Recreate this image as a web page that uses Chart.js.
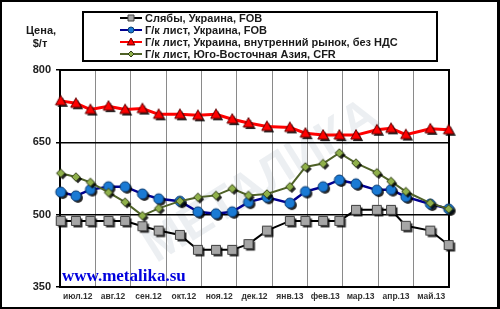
<!DOCTYPE html>
<html><head><meta charset="utf-8">
<script src="https://cdn.jsdelivr.net/npm/chart.js@4.4.0/dist/chart.umd.min.js"></script>
<style>html,body{margin:0;padding:0;background:#fff;}#wrap{width:500px;height:309px;position:relative;background:#fff;}</style>
</head><body><div id="wrap"><canvas id="c" width="500" height="309"></canvas></div>
<script>
// ---- data ----
const months = ['июл.12','авг.12','сен.12','окт.12','ноя.12','дек.12','янв.13','фев.13','мар.13','апр.13','май.13'];
// position of each observation, in months from the start of July 2012
const datePos = [0.02,0.45,0.86,1.37,1.84,2.33,2.79,3.39,3.90,4.41,4.87,5.33,5.85,6.50,6.94,7.44,7.90,8.37,8.96,9.36,9.78,10.47,10.99];
const slabsUA  = [487,487,487,487,487,476,467,458,427,427,427,439,467,487,487,487,487,510,510,510,477,467,437];
const hrcUA    = [547,539,552,558,558,543,533,528,506,502,506,526,536,524,548,558,572,564,551,552,537,522,512];
const hrcUAdom = [736,731,718,725,718,720,708,708,706,708,698,690,683,681,669,665,665,665,676,679,666,678,676];
const hrcSEA   = [586,578,567,546,526,498,513,528,536,540,554,540,543,558,599,606,628,607,587,569,548,524,512];
const seriesNames = ['Слябы, Украина, FOB','Г/к лист, Украина, FOB','Г/к лист, Украина, внутренний рынок, без НДС','Г/к лист, Юго-Восточная Азия, CFR'];
const yTicks = [350,500,650,800];
const yTitle = ['Цена,','$/т'];
const siteText = 'www.metalika.su';
const watermarkText = 'МЕТАЛИКА';

const FONT = '"Liberation Sans", Arial, sans-serif';

function shapePath(ctx, shape, cx, cy, h) {
  ctx.beginPath();
  if (shape === 'square') { ctx.rect(cx - h, cy - h, 2*h, 2*h); }
  else if (shape === 'circle') { ctx.arc(cx, cy, h, 0, Math.PI*2); }
  else if (shape === 'triangle') { ctx.moveTo(cx, cy - h*1.15); ctx.lineTo(cx + h*1.1, cy + h*0.85); ctx.lineTo(cx - h*1.1, cy + h*0.85); ctx.closePath(); }
  else if (shape === 'diamond') { ctx.moveTo(cx, cy - h); ctx.lineTo(cx + h, cy); ctx.lineTo(cx, cy + h); ctx.lineTo(cx - h, cy); ctx.closePath(); }
}
function makeMarker(shape, fill, stroke, size, shadow) {
  const h = size/2;
  const c = Math.ceil(h*1.2 + 3);
  const cv = document.createElement('canvas');
  cv.width = 2*c; cv.height = 2*c;
  const ctx = cv.getContext('2d');
  if (shadow) {
    shapePath(ctx, shape, c + 2, c + 2, h);
    ctx.fillStyle = 'rgba(0,0,0,0.85)'; ctx.fill();
  }
  shapePath(ctx, shape, c, c, h);
  ctx.fillStyle = fill; ctx.fill();
  ctx.lineWidth = 1; ctx.strokeStyle = stroke; ctx.stroke();
  return cv;
}

const styles = [
  {line:'#000000', width:2, shape:'square', fill:'#a6a6a6', stroke:'#404040', size:9, lsize:6},
  {line:'#000090', width:2.5, shape:'circle', fill:'#1a7ad4', stroke:'#0a3a70', size:10, lsize:6},
  {line:'#ff0000', width:3, shape:'triangle', fill:'#ff0000', stroke:'#600000', size:9.5, lsize:7},
  {line:'#4f6228', width:2, shape:'diamond', fill:'#8fb04a', stroke:'#2f3d15', size:8.5, lsize:6}
];
const seriesData = [slabsUA, hrcUA, hrcUAdom, hrcSEA];
const orders = [4,3,2,1];

styles.forEach(s => {
  s.img = makeMarker(s.shape, s.fill, s.stroke, s.size, true);
  s.limg = makeMarker(s.shape, s.fill, s.stroke, s.lsize, false);
});

const datasets = seriesData.map((arr, k) => ({
  label: seriesNames[k],
  data: datePos.map((x, i) => ({x: x, y: arr[i]})),
  xAxisID: 'x', yAxisID: 'y',
  borderColor: styles[k].line,
  borderWidth: styles[k].width,
  backgroundColor: styles[k].fill,
  pointStyle: styles[k].img,
  pointRadius: 5, pointHoverRadius: 5,
  tension: 0, clip: false, order: orders[k], fill: false
}));

const decor = {
  id: 'decor',
  beforeDraw(chart) {
    const ctx = chart.ctx, a = chart.chartArea;
    ctx.save();
    ctx.fillStyle = '#fff'; ctx.fillRect(0, 0, chart.width, chart.height);
    ctx.beginPath(); ctx.rect(a.left, a.top, a.right - a.left, a.bottom - a.top); ctx.clip();
    ctx.translate(262, 182);
    ctx.rotate(-32 * Math.PI / 180);
    ctx.font = 'bold 48px ' + FONT;
    ctx.fillStyle = 'rgba(205,212,222,0.38)';
    ctx.textAlign = 'center'; ctx.textBaseline = 'middle';
    ctx.fillText(watermarkText, 0, 0);
    ctx.restore();
  },
  beforeDatasetsDraw(chart) {
    const ctx = chart.ctx, a = chart.chartArea;
    ctx.save();
    ctx.strokeStyle = '#000'; ctx.lineWidth = 2;
    ctx.strokeRect(a.left, a.top, a.right - a.left, a.bottom - a.top);
    ctx.restore();
  },
  afterDraw(chart) {
    const ctx = chart.ctx;
    ctx.save();
    // outer frame
    ctx.fillStyle = '#000';
    ctx.fillRect(0, 0, 500, 2);
    ctx.fillRect(0, 0, 2, 309);
    ctx.fillRect(497, 0, 3, 309);
    ctx.fillRect(0, 307, 500, 2);
    // legend box
    ctx.lineWidth = 2; ctx.strokeStyle = '#000';
    ctx.strokeRect(83, 12, 354, 49);
    ctx.font = 'bold 11px ' + FONT;
    ctx.textBaseline = 'middle'; ctx.textAlign = 'left';
    seriesNames.forEach((n, k) => {
      const y = 18 + k * 12;
      ctx.beginPath(); ctx.moveTo(120, y); ctx.lineTo(142, y);
      ctx.strokeStyle = styles[k].line; ctx.lineWidth = 2; ctx.stroke();
      const im = styles[k].limg;
      ctx.drawImage(im, 131 - im.width/2, y - im.height/2);
      ctx.fillStyle = '#1a1a1a';
      ctx.fillText(n, 145, y + 0.5);
    });
    // y title
    ctx.textAlign = 'center';
    ctx.fillStyle = '#1a1a1a';
    ctx.fillText(yTitle[0], 41, 31);
    ctx.fillText(yTitle[1], 40, 44);
    // site
    ctx.textAlign = 'left'; ctx.textBaseline = 'alphabetic';
    ctx.font = 'bold 17px "Liberation Serif", "Times New Roman", serif';
    ctx.fillStyle = '#0000dd';
    ctx.fillText(siteText, 62, 281);
    ctx.restore();
  }
};

Chart.defaults.font.family = FONT;
Chart.defaults.font.weight = 'bold';

new Chart(document.getElementById('c'), {
  type: 'line',
  data: { datasets: datasets },
  options: {
    responsive: false, animation: false, devicePixelRatio: 1,
    layout: { padding: { top: 70, right: 51, left: 0, bottom: 0 } },
    plugins: { legend: { display: false }, tooltip: { enabled: false } },
    scales: {
      x: {
        type: 'linear', position: 'bottom', min: 0, max: months.length, weight: 0,
        ticks: { display: false, stepSize: 1 },
        grid: { color: '#8a8a8a', lineWidth: 1, drawTicks: false },
        border: { display: false },
        afterFit: s => { s.height = 0; }
      },
      xl: {
        type: 'category', labels: months, position: 'bottom', offset: true, weight: 1,
        grid: { display: false, drawTicks: false }, border: { display: false },
        ticks: { color: '#333', font: { size: 8.5, weight: 'bold' }, padding: 5, maxRotation: 0, autoSkip: false },
        afterFit: s => { s.height = 22; }
      },
      y: {
        type: 'linear', min: 350, max: 800,
        afterBuildTicks: s => { s.ticks = yTicks.map(v => ({value: v})); },
        ticks: { color: '#222', font: { size: 11, weight: 'bold' }, padding: 5 },
        grid: {
          color: c => (c.tick && (c.tick.value === 650 || c.tick.value === 500)) ? '#000' : 'rgba(0,0,0,0)',
          lineWidth: 1.5, tickLength: 4, tickColor: '#000'
        },
        border: { display: false },
        afterFit: s => { s.width = 60; }
      }
    }
  },
  plugins: [decor]
});
</script>
</body></html>
